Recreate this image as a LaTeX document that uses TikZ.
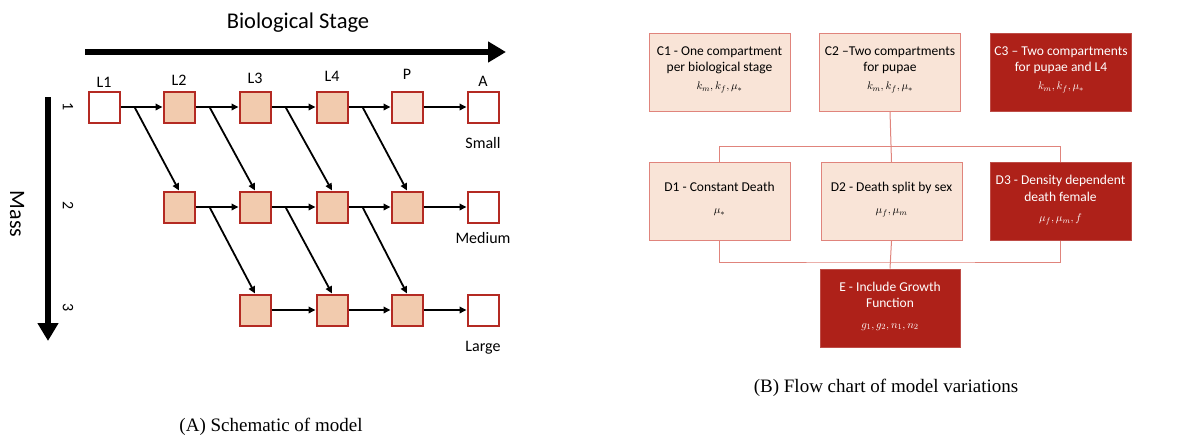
\documentclass[tikz,border=0pt]{standalone}
\usepackage{fontspec}
\setmainfont{Liberation Serif}
\newfontfamily\carl{Carlito}
\usetikzlibrary{arrows.meta,calc}
\definecolor{cellred}{HTML}{B42A23}
\definecolor{peach}{HTML}{F2CBAE}
\definecolor{lpeach}{HTML}{F9E4D7}
\definecolor{lred}{HTML}{E0847C}
\definecolor{dred}{HTML}{AE2119}
\begin{document}
\begin{tikzpicture}[x=1pt,y=-1pt,
  cell/.style={draw=cellred, line width=2pt, minimum size=31pt, inner sep=0pt, fill=peach},
  wcell/.style={cell, fill=white},
  pcell/.style={cell, fill=lpeach},
  fl/.style={-{Triangle[length=7pt,width=6.5pt]}, line width=1.8pt},
  big/.style={-{Triangle[length=18pt,width=20pt]}, line width=6pt},
  lab/.style={font=\carl\fontsize{16}{18}\selectfont},
  bx/.style={draw=lred, line width=1pt, fill=lpeach, minimum width=141pt, minimum height=78pt,
    inner sep=2pt, align=center, font=\carl\fontsize{13.5}{16.5}\selectfont, text depth=8pt},
  dbx/.style={bx, fill=dred, draw=dred!80!white, text=white},
  conn/.style={draw=lred, line width=1pt}
]
\useasboundingbox (0,0) rectangle (1198,439);

% ---------- Panel A ----------
\node[font=\carl\fontsize{22.5}{26}\selectfont] (bio) at (298,23) {Biological Stage};
\coordinate (hs) at (85,52);
\coordinate (he) at (506,52);
\draw[big] (hs) -- (he);
\coordinate (vs) at (48,97);
\coordinate (ve) at (48,341);
\draw[big] (vs) -- (ve);
\node[font=\carl\fontsize{22}{24}\selectfont, rotate=-90] (mass) at (17,214) {Mass};
\node[lab, rotate=-90] (n1) at (68,107) {1};
\node[lab, rotate=-90] (n2) at (68,206) {2};
\node[lab, rotate=-90] (n3) at (68,308) {3};

% row 1
\node[wcell] (r1c1) at (104,107) {};
\node[cell]  (r1c2) at (179,107) {};
\node[cell]  (r1c3) at (255,107) {};
\node[cell]  (r1c4) at (332,107) {};
\node[pcell] (r1c5) at (407,107) {};
\node[wcell] (r1c6) at (483,107) {};
% row 2
\node[cell]  (r2c2) at (179,207) {};
\node[cell]  (r2c3) at (255,207) {};
\node[cell]  (r2c4) at (332,207) {};
\node[cell]  (r2c5) at (407,207) {};
\node[wcell] (r2c6) at (483,207) {};
% row 3
\node[cell]  (r3c3) at (255,310) {};
\node[cell]  (r3c4) at (332,310) {};
\node[cell]  (r3c5) at (407,310) {};
\node[wcell] (r3c6) at (483,310) {};

% stage labels
\node[lab] (lL1) at (104,82) {L1};
\node[lab] (lL2) at (179,80) {L2};
\node[lab] (lL3) at (255,78) {L3};
\node[lab] (lL4) at (332,76) {L4};
\node[lab] (lP)  at (407,74) {P};
\node[lab] (lA)  at (483,81) {A};
\node[lab] (small)  at (483,143) {Small};
\node[lab] (medium) at (483,238) {Medium};
\node[lab] (large)  at (483,348) {Large};

% horizontal arrows
\draw[fl] (r1c1) -- (r1c2);
\draw[fl] (r1c2) -- (r1c3);
\draw[fl] (r1c3) -- (r1c4);
\draw[fl] (r1c4) -- (r1c5);
\draw[fl] (r1c5) -- (r1c6);
\draw[fl] (r2c2) -- (r2c3);
\draw[fl] (r2c3) -- (r2c4);
\draw[fl] (r2c4) -- (r2c5);
\draw[fl] (r2c5) -- (r2c6);
\draw[fl] (r3c3) -- (r3c4);
\draw[fl] (r3c4) -- (r3c5);
\draw[fl] (r3c5) -- (r3c6);

% diagonal arrows
\foreach \a/\b in {r1c1/r2c2, r1c2/r2c3, r1c3/r2c4, r1c4/r2c5, r2c2/r3c3, r2c3/r3c4, r2c4/r3c5}{
  \draw[fl] ($(\a.east)+(14,0)$) -- (\b.north);
}

\node[font=\fontsize{19}{22}\selectfont] (capA) at (271,427) {(A) Schematic of model};

% ---------- Panel B ----------
\node[bx] (c1) at (719.5,72) {C1 - One compartment\\per biological stage\\[1pt]{\fontsize{11}{13}\selectfont$k_m, k_f, \mu_*$}};
\node[bx] (c2) at (890,72) {C2 –Two compartments\\for pupae\\[1pt]{\fontsize{11}{13}\selectfont$k_m, k_f, \mu_*$}};
\node[dbx] (c3) at (1061,72) {C3 – Two compartments\\for pupae and L4\\[1pt]{\fontsize{11}{13}\selectfont$k_m, k_f, \mu_*$}};

\node[bx, text depth=7pt] (d1) at (719.5,201.5) {D1 - Constant Death\\[6pt]{\fontsize{11}{13}\selectfont$\mu_*$}};
\node[bx, text depth=7pt] (d2) at (891.5,201.5) {D2 - Death split by sex\\[6pt]{\fontsize{11}{13}\selectfont$\mu_f, \mu_m$}};
\node[dbx, text depth=6pt] (d3) at (1060.5,201.5) {D3 - Density dependent\\death female\\[4pt]{\fontsize{11}{13}\selectfont$\mu_f, \mu_m, f$}};

\node[dbx, text depth=6pt, minimum width=140pt] (e) at (890,308) {E - Include Growth\\Function\\[4pt]{\fontsize{11}{13}\selectfont$g_1, g_2, n_1, n_2$}};

\coordinate (j1) at ($(c2.south)+(0,35)$);
\coordinate (j2) at ($(d2.south)+(0,21)$);
\draw[conn] (c2.south) -- (d2.north);
\draw[conn] (d1.north) |- (j1) -| (d3.north);
\draw[conn] (d2.south) -- (e.north);
\draw[conn] (d1.south) |- (j2) -| (d3.south);

\node[font=\fontsize{19}{22}\selectfont] (capB) at (886,388) {(B) Flow chart of model variations};
\end{tikzpicture}
\end{document}
